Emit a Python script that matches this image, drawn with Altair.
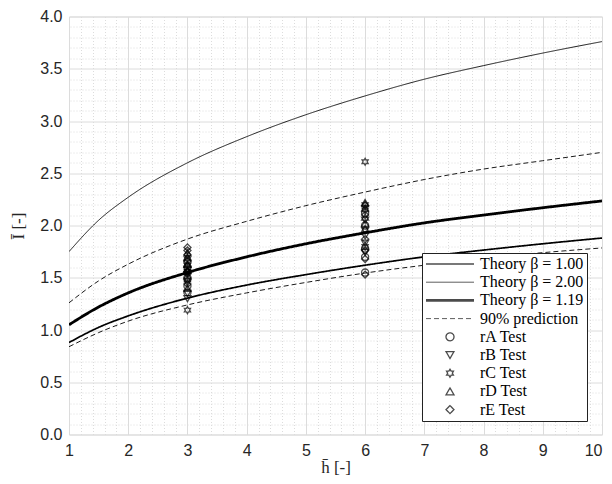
import altair as alt
import pandas as pd

# ---- data ----
h_grid = [1, 1.5, 2, 3, 4, 5, 6, 7, 8, 9, 10]
theory_b100 = [0.88, 1.025, 1.135, 1.305, 1.43, 1.53, 1.62, 1.70, 1.765, 1.825, 1.88]
theory_b200 = [1.75, 2.05, 2.27, 2.60, 2.85, 3.06, 3.24, 3.40, 3.53, 3.65, 3.76]
theory_b119 = [1.05, 1.22, 1.355, 1.55, 1.70, 1.825, 1.93, 2.025, 2.10, 2.17, 2.235]
pred_upper = [1.26, 1.47, 1.63, 1.87, 2.04, 2.19, 2.32, 2.44, 2.54, 2.62, 2.70]
pred_lower = [0.84, 0.975, 1.085, 1.24, 1.355, 1.455, 1.545, 1.62, 1.685, 1.74, 1.785]

series_names = ["Theory β = 1.00", "Theory β = 2.00", "Theory β = 1.19",
                "90% prediction", "rA Test", "rB Test", "rC Test", "rD Test", "rE Test"]

rA_h3 = [1.36, 1.42, 1.50, 1.55, 1.60, 1.65]
rA_h6 = [1.55, 1.70, 1.78, 2.00, 2.12]
rB_h3 = [1.30, 1.35, 1.45, 1.53, 1.58]
rB_h6 = [1.74, 1.83, 1.90, 1.95, 2.05]
rC_h3 = [1.19, 1.48, 1.56, 1.62, 1.68]
rC_h6 = [1.80, 2.15, 2.20, 2.61]
rD_h3 = [1.40, 1.52, 1.57, 1.63, 1.70, 1.74]
rD_h6 = [1.97, 2.02, 2.08, 2.17, 2.22]
rE_h3 = [1.44, 1.56, 1.66, 1.72, 1.76, 1.79]
rE_h6 = [1.53, 1.68, 1.76, 1.87, 2.10, 2.19]

x_ticks = [1, 2, 3, 4, 5, 6, 7, 8, 9, 10]
y_ticks = [0, 0.5, 1.0, 1.5, 2.0, 2.5, 3.0, 3.5, 4.0]

# ---- tables ----
curve_rows = []
for name, curve, vals in [
    (series_names[0], "b100", theory_b100),
    (series_names[1], "b200", theory_b200),
    (series_names[2], "b119", theory_b119),
    (series_names[3], "up", pred_upper),
    (series_names[3], "low", pred_lower),
]:
    for h, v in zip(h_grid, vals):
        curve_rows.append({"series": name, "curve": curve, "h": h, "I": v})
curves = pd.DataFrame(curve_rows)

pt_rows = []
for name, a3, a6 in [
    ("rA Test", rA_h3, rA_h6), ("rB Test", rB_h3, rB_h6), ("rC Test", rC_h3, rC_h6),
    ("rD Test", rD_h3, rD_h6), ("rE Test", rE_h3, rE_h6),
]:
    for v in a3:
        pt_rows.append({"series": name, "h": 3, "I": v})
    for v in a6:
        pt_rows.append({"series": name, "h": 6, "I": v})
points = pd.DataFrame(pt_rows)

# ---- styles ----
LINE = "M-6,0L6,0"
HEX = ("M0,-1L0.289,-0.5L0.866,-0.5L0.577,0L0.866,0.5L0.289,0.5L0,1L-0.289,0.5"
       "L-0.866,0.5L-0.577,0L-0.866,-0.5L-0.289,-0.5Z")
shape_range = [LINE, LINE, LINE, LINE, "circle", "triangle-down", HEX, "triangle-up", "diamond"]
dash_range = [[1, 0], [1, 0], [1, 0], [5, 3], [1, 0], [1, 0], [1, 0], [1, 0], [1, 0]]
width_range = [1.7, 0.9, 2.8, 0.9, 1.3, 1.3, 1.3, 1.3, 1.3]

legend = alt.Legend(
    title=None, orient="none", legendX=353, legendY=236.5,
    labelFont="Liberation Serif", labelFontSize=16, labelColor="black",
    padding=3, rowPadding=2.2, strokeColor="#222", fillColor="white",
    symbolSize=64, symbolOffset=17, labelOffset=22,
    symbolStrokeColor="black", symbolFillColor="transparent",
)

xs = alt.Scale(domain=[1, 10], nice=False, zero=False)
ys = alt.Scale(domain=[0, 4], nice=False, zero=True)

grid_col = "#dcdcdc"
minor_x = [round(1 + 0.2 * i, 1) for i in range(46) if i % 5 != 0]
minor_y = [round(0.1 * i, 1) for i in range(41) if i % 5 != 0]

minor_x_axis = alt.Axis(values=minor_x, grid=True, gridColor=grid_col, gridDash=[1, 2],
                        labels=False, ticks=False, domain=False, title=None, orient="top")
minor_y_axis = alt.Axis(values=minor_y, grid=True, gridColor=grid_col, gridDash=[1, 2],
                        labels=False, ticks=False, domain=False, title=None, orient="right")

major_x_axis = alt.Axis(values=x_ticks, format="d", grid=True, gridColor=grid_col,
                        ticks=False, tickSize=0, domain=False, labelFont="Liberation Sans",
                        labelFontSize=16, labelColor="#262626", labelPadding=8,
                        labelFlush=False, labelOverlap=False,
                        labelAlign={"condition": {"test": "datum.value == 10", "value": "right"},
                                    "value": "center"},
                        title="h̄ [-]", titleFont="Liberation Serif", titleFontSize=17,
                        titleFontWeight="normal", titleColor="#262626",
                        titleX=266.5, titleY=32.5, titleBaseline="middle", titleAlign="center",
                        orient="bottom")
major_y_axis = alt.Axis(values=y_ticks, format=".1f", grid=True, gridColor=grid_col,
                        ticks=False, tickSize=0, domain=False, labelFont="Liberation Sans",
                        labelFontSize=16, labelColor="#262626", labelPadding=7,
                        labelFlush=False, labelOverlap=False,
                        title="Ī [-]", titleFont="Liberation Serif", titleFontSize=17,
                        titleFontWeight="normal", titleColor="#262626",
                        titleX=-51, titleY=209, titleBaseline="middle", titleAlign="center",
                        titleAngle=-90, orient="left")

lines = alt.Chart(curves).mark_line(color="black", interpolate="monotone", clip=True).encode(
    x=alt.X("h:Q", scale=xs, axis=minor_x_axis),
    y=alt.Y("I:Q", scale=ys, axis=minor_y_axis),
    detail="curve:N",
    strokeDash=alt.StrokeDash("series:N", scale=alt.Scale(domain=series_names, range=dash_range),
                              legend=legend),
    strokeWidth=alt.StrokeWidth("series:N",
                                scale=alt.Scale(type="ordinal", domain=series_names, range=width_range),
                                legend=legend),
)

pts = alt.Chart(points).mark_point(filled=False, color="black", size=50, strokeWidth=1.3).encode(
    x=alt.X("h:Q", scale=xs, axis=major_x_axis),
    y=alt.Y("I:Q", scale=ys, axis=major_y_axis),
    shape=alt.Shape("series:N", scale=alt.Scale(domain=series_names, range=shape_range),
                    legend=legend),
)

chart = alt.layer(lines, pts).resolve_axis(x="independent", y="independent").properties(
    width=533, height=418,
    autosize=alt.AutoSizeParams(type="none"),
    padding={"left": 61, "top": 8.5, "right": 2, "bottom": 45},
).configure_view(stroke="#666", strokeWidth=1).configure(background="white")

chart.save("out.html", embed_options={"renderer": "svg", "actions": False})
